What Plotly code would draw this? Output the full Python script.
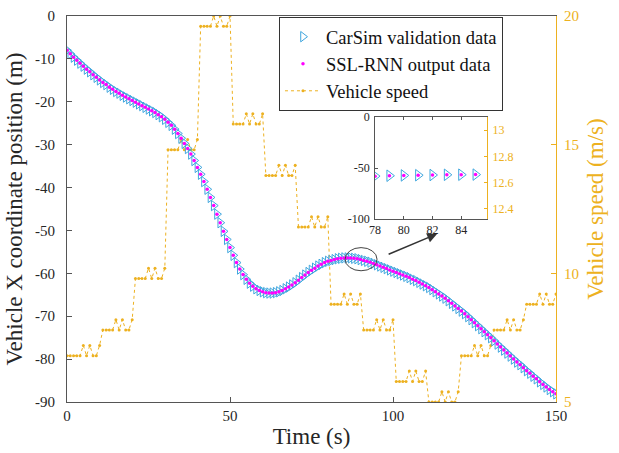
import plotly.graph_objects as go

# ---------------- data ----------------
time_s = list(range(0, 151))

position_m = [
    -8.0, -8.8, -9.6, -10.3, -11.0, -11.7, -12.4, -13.0, -13.7, -14.3,
    -14.9, -15.5, -16.0, -16.6, -17.1, -17.6, -18.0, -18.5, -18.9, -19.3,
    -19.7, -20.1, -20.5, -20.9, -21.3, -21.7, -22.1, -22.5, -23.0, -23.5,
    -24.1, -24.8, -25.5, -26.4, -27.4, -28.5, -29.7, -30.9, -32.2, -33.7,
    -35.3, -36.9, -38.6, -40.4, -42.3, -44.2, -46.2, -48.2, -50.2, -52.1,
    -54.0, -55.8, -57.5, -59.0, -60.3, -61.4, -62.3, -63.0, -63.6, -64.0,
    -64.3, -64.5, -64.6, -64.6, -64.5, -64.3, -64.0, -63.6, -63.2, -62.7,
    -62.2, -61.6, -61.0, -60.4, -59.8, -59.3, -58.8, -58.3, -57.9, -57.5,
    -57.2, -57.0, -56.8, -56.6, -56.5, -56.4, -56.4, -56.4, -56.5, -56.6,
    -56.8, -57.0, -57.2, -57.4, -57.7, -58.0, -58.3, -58.6, -58.9, -59.2,
    -59.5, -59.8, -60.1, -60.4, -60.7, -61.0, -61.4, -61.7, -62.1, -62.5,
    -62.9, -63.3, -63.8, -64.3, -64.8, -65.3, -65.8, -66.4, -67.0, -67.6,
    -68.2, -68.8, -69.4, -70.1, -70.8, -71.5, -72.2, -72.9, -73.6, -74.3,
    -75.0, -75.7, -76.5, -77.2, -77.9, -78.6, -79.3, -80.0, -80.7, -81.3,
    -82.0, -82.7, -83.3, -84.0, -84.6, -85.3, -85.9, -86.5, -87.1, -87.6,
    -88.1,
]

# speed level held in each 10 s segment, and the small ripple seen inside each segment
speed_levels = [6.8, 7.8, 9.8, 14.8, 19.6, 15.8, 13.8, 11.8, 8.8, 7.8, 5.8, 5.0, 6.8, 7.8, 8.8]
speed_ripple = [0, 0, 0, 0, 0.4, 0, 0.4, 0, 0, 0.4]   # offsets at seconds 1..10 of a segment

inset_range = [78, 85]

x_ticks = [0, 50, 100, 150]
x_tick_labels = ["0", "50", "100", "150"]
y_ticks = [0, -10, -20, -30, -40, -50, -60, -70, -80, -90]
y_tick_labels = ["0", "-10", "-20", "-30", "-40", "-50", "-60", "-70", "-80", "-90"]
speed_ticks = [5, 10, 15, 20]
speed_tick_labels = ["5", "10", "15", "20"]

inset_x_ticks = [78, 80, 82, 84]
inset_x_labels = ["78", "80", "82", "84"]
inset_y_ticks = [0, -50, -100]
inset_y_labels = ["0", "-50", "-100"]
inset_s_ticks = [12.4, 12.6, 12.8, 13]
inset_s_labels = ["12.4", "12.6", "12.8", "13"]

legend_names = ["CarSim validation data", "SSL-RNN output data", "Vehicle speed"]

# build the speed table
speed_ms = [speed_levels[0]]
for seg, lvl in enumerate(speed_levels):
    for off in speed_ripple:
        speed_ms.append(lvl + off)

# ---------------- styling ----------------
FONT = "Liberation Serif, Times New Roman, serif"
ORANGE = "#EDB120"
BLUE = "#3FA6DE"
MAGENTA = "#FF00FF"
AXC = "#555555"
TXT = "#262626"

fig = go.Figure()

fig.add_trace(go.Scatter(
    x=time_s, y=position_m, mode="markers", name=legend_names[0],
    marker=dict(symbol="triangle-right-open", size=9, color=BLUE, line=dict(width=1, color=BLUE)),
    xaxis="x", yaxis="y2"))
fig.add_trace(go.Scatter(
    x=time_s, y=position_m, mode="markers", name=legend_names[1],
    marker=dict(symbol="circle", size=3.5, color=MAGENTA),
    xaxis="x", yaxis="y2"))
fig.add_trace(go.Scatter(
    x=time_s, y=speed_ms, mode="lines+markers", name=legend_names[2],
    line=dict(color=ORANGE, width=1, dash="dot"),
    marker=dict(symbol="circle", size=3, color=ORANGE),
    xaxis="x", yaxis="y"))

# inset
ins_t = [t for t in time_s if inset_range[0] <= t <= inset_range[1]]
ins_p = [position_m[time_s.index(t)] for t in ins_t]
ins_s = [speed_ms[time_s.index(t)] for t in ins_t]
fig.add_trace(go.Scatter(
    x=ins_t, y=ins_p, mode="markers", showlegend=False,
    marker=dict(symbol="triangle-right-open", size=10, color=BLUE, line=dict(width=1, color=BLUE)),
    xaxis="x3", yaxis="y3"))
fig.add_trace(go.Scatter(
    x=ins_t, y=ins_p, mode="markers", showlegend=False,
    marker=dict(symbol="circle", size=3.5, color=MAGENTA),
    xaxis="x3", yaxis="y3"))
# speed in the inset window (outside its right-axis range, as in the original)
fig.add_trace(go.Scatter(
    x=ins_t, y=ins_s, mode="lines", showlegend=False, hoverinfo="skip",
    line=dict(color=ORANGE, width=1, dash="dot"),
    xaxis="x3", yaxis="y4"))

tickfont = dict(family=FONT, size=15, color=TXT)
inset_font = dict(family=FONT, size=12, color=TXT)

fig.update_layout(
    width=619, height=453,
    margin=dict(l=67, r=63, t=16, b=51, autoexpand=False),
    paper_bgcolor="white", plot_bgcolor="white",
    font=dict(family=FONT, color=TXT),
    showlegend=True,
    legend=dict(
        x=0.4335, y=0.997, xanchor="left", yanchor="top",
        bgcolor="white", bordercolor="#333333", borderwidth=1,
        font=dict(family=FONT, size=18.5, color="#111111"),
        tracegroupgap=0, itemwidth=36,
    ),
    xaxis=dict(
        domain=[0, 1], range=[0, 150], tickvals=x_ticks, ticktext=x_tick_labels,
        ticks="inside", ticklen=5, tickcolor=AXC, showline=True, linecolor=AXC, linewidth=1,
        mirror=True, showgrid=False, zeroline=False, tickfont=tickfont,
        title=dict(text="Time (s)", font=dict(family=FONT, size=23, color=TXT), standoff=4),
        anchor="y",
    ),
    yaxis=dict(
        range=[5, 20], side="right", tickvals=speed_ticks, ticktext=speed_tick_labels,
        ticks="inside", ticklen=5, tickcolor=ORANGE, showline=True, linecolor=ORANGE, linewidth=1,
        showgrid=False, zeroline=False, tickfont=dict(family=FONT, size=15, color=ORANGE),
        title=dict(text="Vehicle speed (m/s)", font=dict(family=FONT, size=23, color=ORANGE), standoff=8),
        anchor="x", ticklabelstandoff=4,
    ),
    yaxis2=dict(
        range=[-90, 0], side="left", overlaying="y", tickvals=y_ticks, ticktext=y_tick_labels,
        ticks="inside", ticklen=5, tickcolor=AXC, showline=True, linecolor=AXC, linewidth=1,
        showgrid=False, zeroline=False, tickfont=tickfont,
        title=dict(text="Vehicle X coordinate position (m)", font=dict(family=FONT, size=23, color=TXT), standoff=5),
        anchor="x", ticklabelstandoff=8,
    ),
    xaxis3=dict(
        domain=[0.630, 0.859], range=[78, 85.8], anchor="y3", tickvals=inset_x_ticks,
        ticktext=inset_x_labels, ticks="inside", ticklen=3, tickcolor=AXC, showline=True,
        linecolor=AXC, linewidth=1, mirror="ticks", showgrid=False, zeroline=False, tickfont=inset_font,
    ),
    yaxis3=dict(
        domain=[0.474, 0.738], range=[-100, 0], anchor="x3", tickvals=inset_y_ticks,
        ticktext=inset_y_labels, ticks="inside", ticklen=3, tickcolor=AXC, showline=True,
        linecolor=AXC, linewidth=1, showgrid=False, zeroline=False, tickfont=inset_font,
        ticklabelstandoff=2,
    ),
    yaxis4=dict(
        domain=[0.474, 0.738], range=[12.32, 13.1], anchor="x3", overlaying="y3", side="right",
        tickvals=inset_s_ticks, ticktext=inset_s_labels, ticks="inside", ticklen=3,
        tickcolor=ORANGE, showline=True, linecolor=ORANGE, linewidth=1, showgrid=False,
        zeroline=False, tickfont=dict(family=FONT, size=12, color=ORANGE), ticklabelstandoff=2,
    ),
)

# ellipse around the zoomed region and the arrow to the inset
fig.add_shape(type="circle", xref="x", yref="y2", x0=85.3, x1=95.1, y0=-59.4, y1=-54.0,
              line=dict(color="#444444", width=1))
fig.add_annotation(x=113.5, y=-50.8, ax=98.2, ay=-55.7, xref="x", yref="y2",
                   axref="x", ayref="y2", showarrow=True, text="",
                   arrowhead=2, arrowsize=1.3, arrowwidth=1.5, arrowcolor="#333333")

fig.write_html("out.html", config={"displayModeBar": False},
               post_script="document.body.style.margin='0';")
